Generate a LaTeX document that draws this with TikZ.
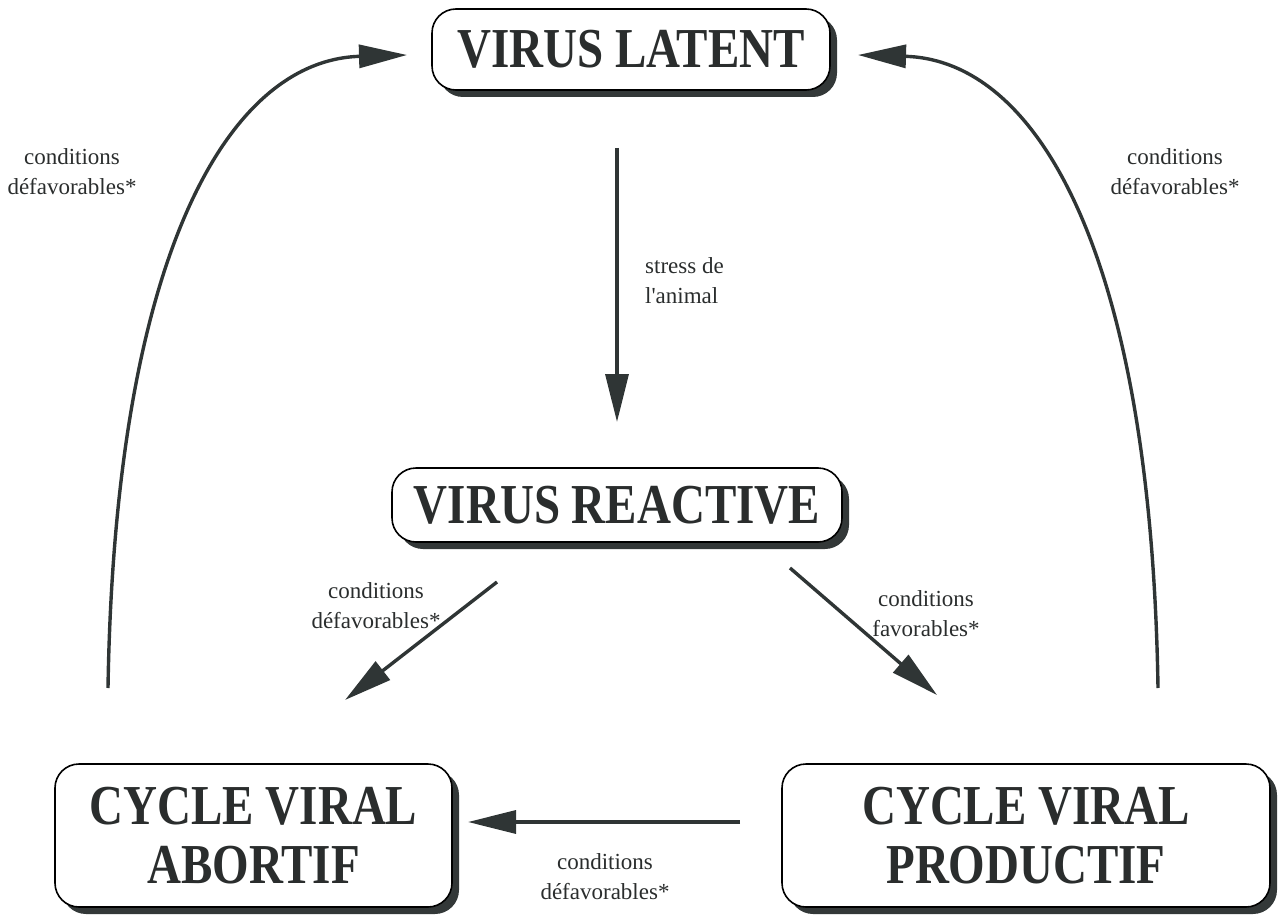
\documentclass[tikz,border=0pt]{standalone}
\usepackage{fontspec}
\setmainfont{Liberation Serif}
\usetikzlibrary{arrows.meta,shadows}
\definecolor{arrc}{HTML}{2F3535}
\definecolor{shc}{HTML}{333838}
\definecolor{txc}{HTML}{2A2D2D}
\tikzset{
  box/.style={draw=black, line width=1.6pt, rounded corners=24pt, fill=white,
    drop shadow={shadow xshift=7pt, shadow yshift=-7pt, opacity=1, fill=shc},
    align=center, text=txc, inner sep=0pt,
    font=\fontsize{47}{59}\selectfont\bfseries},
  arr/.style={draw=arrc, line width=3.4pt, -{Triangle[length=48pt,width=23pt]}},
  lbl/.style={align=center, text=txc, inner sep=0pt, font=\fontsize{23}{30}\selectfont},
}
\newcommand{\tall}[1]{\scalebox{1}[1.2]{#1}}
\begin{document}
\begin{tikzpicture}[x=1pt,y=-1pt]
\useasboundingbox (0,0) rectangle (1284,917);
\node[box, minimum width=398pt, minimum height=81pt] (lat) at (631,49.5) {\tall{VIRUS LATENT}};
\node[box, minimum width=450pt, minimum height=74pt] (rea) at (617,505) {\tall{VIRUS REACTIVE}};
\node[box, minimum width=397pt, minimum height=143pt] (abo) at (253.5,835.5) {\tall{CYCLE VIRAL}\\\tall{ABORTIF}};
\node[box, minimum width=488pt, minimum height=143pt] (pro) at (1026,835.5) {\tall{CYCLE VIRAL}\\\tall{PRODUCTIF}};

\coordinate (d1) at (617,148);
\coordinate (d2) at (617,422);
\coordinate (l1) at (108,688);
\coordinate (l2) at (407,55);
\coordinate (r1) at (1158,688);
\coordinate (r2) at (858,55);
\coordinate (a1) at (497,582);
\coordinate (a2) at (345,700);
\coordinate (b1) at (790,568);
\coordinate (b2) at (937,695);
\coordinate (h1) at (740,822);
\coordinate (h2) at (468,822);

\draw[arr] (d1) -- (d2);
\draw[arr] (l1) .. controls (115,250) and (230,60) .. (l2);
\draw[arr] (r1) .. controls (1151,250) and (1036,60) .. (r2);
\draw[arr] (a1) -- (a2);
\draw[arr] (b1) -- (b2);
\draw[arr] (h1) -- (h2);

\node[lbl] (tl) at (72,172) {conditions\\défavorables*};
\node[lbl] (tr) at (1175,172) {conditions\\défavorables*};
\node[lbl, anchor=west, align=left] (ts) at (645,281) {stress de\\l\textquotesingle animal};
\node[lbl] (tdl) at (376,606) {conditions\\défavorables*};
\node[lbl] (tdr) at (926,614) {conditions\\favorables*};
\node[lbl] (tb) at (605,877) {conditions\\défavorables*};
\end{tikzpicture}
\end{document}
